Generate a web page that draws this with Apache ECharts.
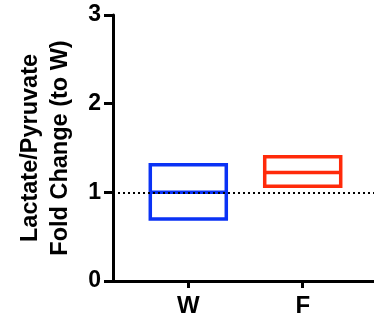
<!DOCTYPE html>
<html><head><meta charset="utf-8">
<script src="https://cdn.jsdelivr.net/npm/echarts@6/dist/echarts.min.js"></script>
<style>html,body{margin:0;padding:0;background:#fff}#c{width:374px;height:322px}</style>
</head><body><div id="c"></div>
<script>
var categories = ['W', 'F'];
var categoryPos = [1, 2];
var lowValues = [0.70, 1.07];
var meanValues = [1.00, 1.225];
var highValues = [1.31, 1.40];
var colors = ['#0A32F5', '#FF2A0A'];
var yTicks = [0, 1, 2, 3];
var refLine = 1;

var boxData = categories.map(function (c, i) {
  return [categoryPos[i], lowValues[i], meanValues[i], highValues[i]];
});

var chart = echarts.init(document.getElementById('c'), null, {renderer: 'canvas'});
var font = 'Liberation Sans, Arial, sans-serif';
chart.setOption({
  animation: false,
  grid: {left: 113, top: 15, right: 0, bottom: 41, containLabel: false},
  xAxis: {
    type: 'value', min: 0.342, max: 2.623,
    splitLine: {show: false},
    axisLine: {show: true, lineStyle: {color: '#000', width: 3}},
    axisTick: {show: true, customValues: categoryPos, length: 7, lineStyle: {color: '#000', width: 3}},
    axisLabel: {
      customValues: categoryPos, margin: 13,
      color: '#000', fontWeight: 'bold', fontSize: 24, fontFamily: font,
      formatter: function (v) { var i = categoryPos.indexOf(v); return i >= 0 ? categories[i] : ''; }
    }
  },
  yAxis: {
    type: 'value', min: 0, max: 3, interval: 1,
    splitLine: {show: false},
    axisLine: {show: true, lineStyle: {color: '#000', width: 3}},
    axisTick: {show: true, length: 9, lineStyle: {color: '#000', width: 3}},
    axisLabel: {color: '#000', fontWeight: 'bold', fontSize: 23, fontFamily: font, margin: 12},
    name: 'Lactate/Pyruvate\nFold Change (to W)',
    nameLocation: 'middle', nameRotate: 90, nameGap: 37,
    nameTextStyle: {color: '#000', fontWeight: 'bold', fontSize: 23.5, fontFamily: font, lineHeight: 30}
  },
  series: [{
    type: 'custom',
    data: boxData,
    renderItem: function (params, api) {
      var x = api.value(0);
      var pLow = api.coord([x, api.value(1)]);
      var pMid = api.coord([x, api.value(2)]);
      var pHigh = api.coord([x, api.value(3)]);
      var w = 76;
      var col = colors[params.dataIndex];
      var style = {stroke: col, fill: null, lineWidth: 3.5};
      return {
        type: 'group',
        children: [
          {type: 'rect', shape: {x: pLow[0] - w / 2, y: pHigh[1], width: w, height: pLow[1] - pHigh[1]}, style: style},
          {type: 'line', shape: {x1: pLow[0] - w / 2, y1: pMid[1], x2: pLow[0] + w / 2, y2: pMid[1]}, style: style}
        ]
      };
    },
    markLine: {
      silent: true, symbol: 'none', label: {show: false},
      lineStyle: {color: '#000', type: [2, 3], width: 2},
      data: [{yAxis: refLine}]
    },
    z: 2
  }]
});
</script></body></html>
